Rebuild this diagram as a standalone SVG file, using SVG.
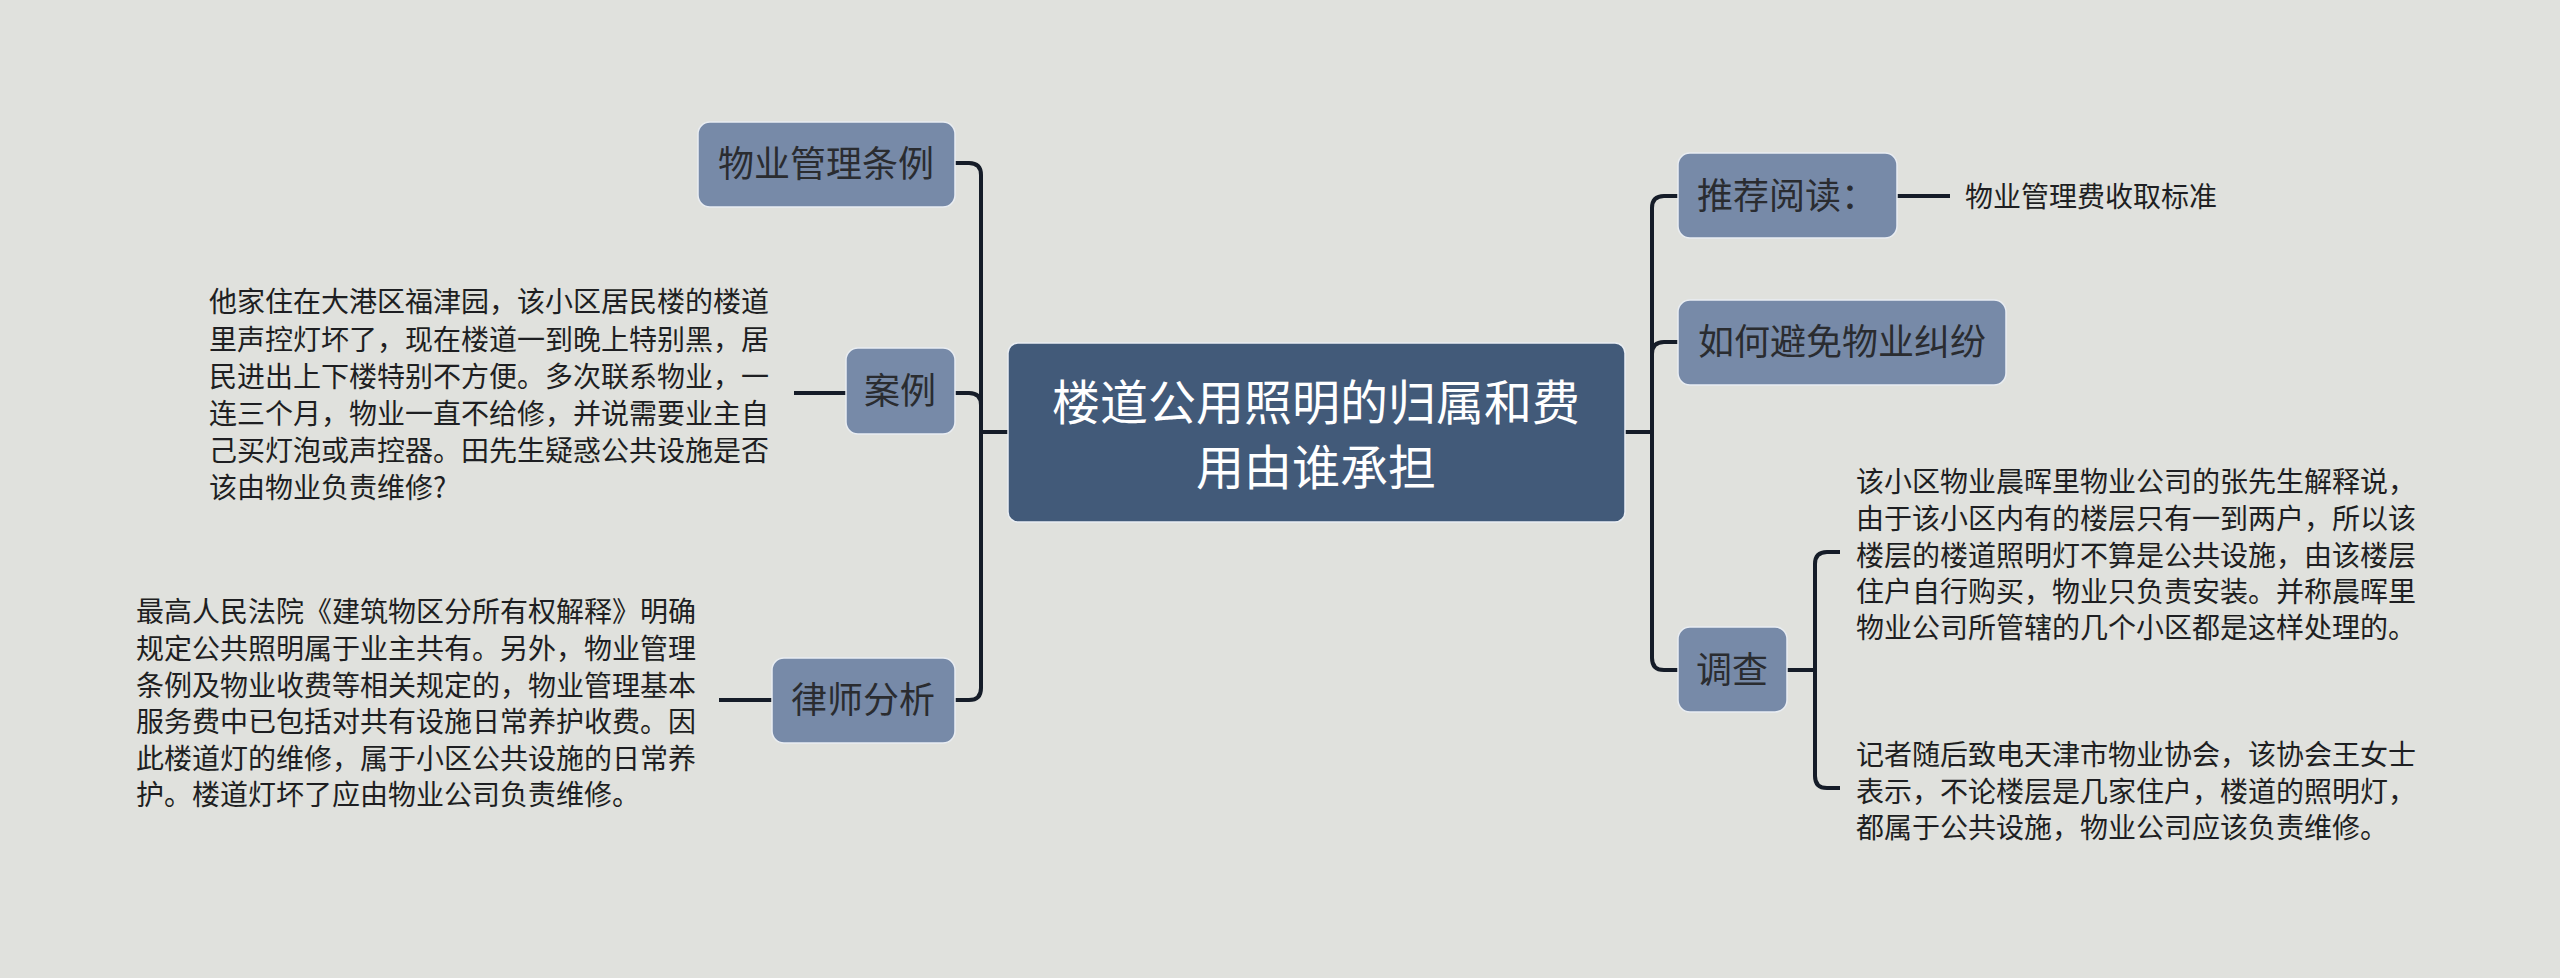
<svg xmlns="http://www.w3.org/2000/svg" width="2560" height="978" viewBox="0 0 2560 978">
<style>
.bg{fill:#e0e1dd}
.box{fill:#778aa8;stroke:#e9edf2;stroke-width:1.5}
.root{fill:#425a79;stroke:#e9edf2;stroke-width:1.5}
.lbl{font-family:"Noto Sans CJK SC","Noto Sans",sans-serif;font-size:36px;fill:#2a2c30;text-anchor:middle}
.rlbl{font-family:"Noto Sans CJK SC","Noto Sans",sans-serif;font-size:48px;fill:#ffffff;text-anchor:middle}
.txt{font-family:"Noto Sans CJK SC","Noto Sans",sans-serif;font-size:28px;fill:#1e1f22}
.c{fill:none;stroke:#151c28;stroke-width:4;stroke-linecap:butt;stroke-linejoin:round}
</style>
<rect class="bg" x="0" y="0" width="2560" height="978"/>
<g id="connectors">
<path class="c" d="M1008 432 H981"/>
<path class="c" d="M981 432 V175 Q981 163 969 163 H955"/>
<path class="c" d="M981 432 V405 Q981 393 969 393 H955"/>
<path class="c" d="M981 432 V688 Q981 700 969 700 H955"/>
<path class="c" d="M1625 432 H1652"/>
<path class="c" d="M1652 432 V208 Q1652 196 1664 196 H1678"/>
<path class="c" d="M1652 432 V354 Q1652 342 1664 342 H1678"/>
<path class="c" d="M1652 432 V658 Q1652 670 1664 670 H1678"/>
<path class="c" d="M1897 196 H1950"/>
<path class="c" d="M1787 670 H1815 V564 Q1815 552 1827 552 H1840"/>
<path class="c" d="M1815 670 V776 Q1815 788 1827 788 H1840"/>
<path class="c" d="M846 393 H794"/>
<path class="c" d="M772 700 H719"/>
</g>
<g id="root">
<rect class="root" x="1008" y="343" width="617" height="179" rx="10"/>
<text class="rlbl" x="1316" y="420">楼道公用照明的归属和费</text>
<text class="rlbl" x="1316" y="485">用由谁承担</text>
</g>
<g id="n-tiaoli">
<rect class="box" x="698" y="122" width="257" height="85" rx="12"/>
<text class="lbl" x="826" y="177">物业管理条例</text>
</g>
<g id="n-anli">
<rect class="box" x="846" y="348" width="109" height="86" rx="12"/>
<text class="lbl" x="900" y="404">案例</text>
</g>
<g id="n-anli-text">
<text class="txt" x="209" y="312">他家住在大港区福津园，该小区居民楼的楼道</text>
<text class="txt" x="209" y="350">里声控灯坏了，现在楼道一到晚上特别黑，居</text>
<text class="txt" x="209" y="387">民进出上下楼特别不方便。多次联系物业，一</text>
<text class="txt" x="209" y="424">连三个月，物业一直不给修，并说需要业主自</text>
<text class="txt" x="209" y="461">己买灯泡或声控器。田先生疑惑公共设施是否</text>
<text class="txt" x="209" y="498">该由物业负责维修?</text>
</g>
<g id="n-lvshi">
<rect class="box" x="772" y="658" width="183" height="85" rx="12"/>
<text class="lbl" x="863" y="713">律师分析</text>
</g>
<g id="n-lvshi-text">
<text class="txt" x="136" y="622">最高人民法院《建筑物区分所有权解释》明确</text>
<text class="txt" x="136" y="659">规定公共照明属于业主共有。另外，物业管理</text>
<text class="txt" x="136" y="696">条例及物业收费等相关规定的，物业管理基本</text>
<text class="txt" x="136" y="732">服务费中已包括对共有设施日常养护收费。因</text>
<text class="txt" x="136" y="769">此楼道灯的维修，属于小区公共设施的日常养</text>
<text class="txt" x="136" y="805">护。楼道灯坏了应由物业公司负责维修。</text>
</g>
<g id="n-tuijian">
<rect class="box" x="1678" y="153" width="219" height="85" rx="12"/>
<text class="lbl" x="1697" y="209" style="text-anchor:start">推荐阅读：</text>
</g>
<g id="n-tuijian-leaf">
<text class="txt" x="1965" y="207">物业管理费收取标准</text>
</g>
<g id="n-bimian">
<rect class="box" x="1678" y="300" width="328" height="85" rx="12"/>
<text class="lbl" x="1842" y="355">如何避免物业纠纷</text>
</g>
<g id="n-diaocha">
<rect class="box" x="1678" y="627" width="109" height="85" rx="12"/>
<text class="lbl" x="1732" y="683">调查</text>
</g>
<g id="n-diaocha-t1">
<text class="txt" x="1856" y="492">该小区物业晨晖里物业公司的张先生解释说，</text>
<text class="txt" x="1856" y="529">由于该小区内有的楼层只有一到两户，所以该</text>
<text class="txt" x="1856" y="566">楼层的楼道照明灯不算是公共设施，由该楼层</text>
<text class="txt" x="1856" y="602">住户自行购买，物业只负责安装。并称晨晖里</text>
<text class="txt" x="1856" y="638">物业公司所管辖的几个小区都是这样处理的。</text>
</g>
<g id="n-diaocha-t2">
<text class="txt" x="1856" y="765">记者随后致电天津市物业协会，该协会王女士</text>
<text class="txt" x="1856" y="802">表示，不论楼层是几家住户，楼道的照明灯，</text>
<text class="txt" x="1856" y="838">都属于公共设施，物业公司应该负责维修。</text>
</g>
</svg>
